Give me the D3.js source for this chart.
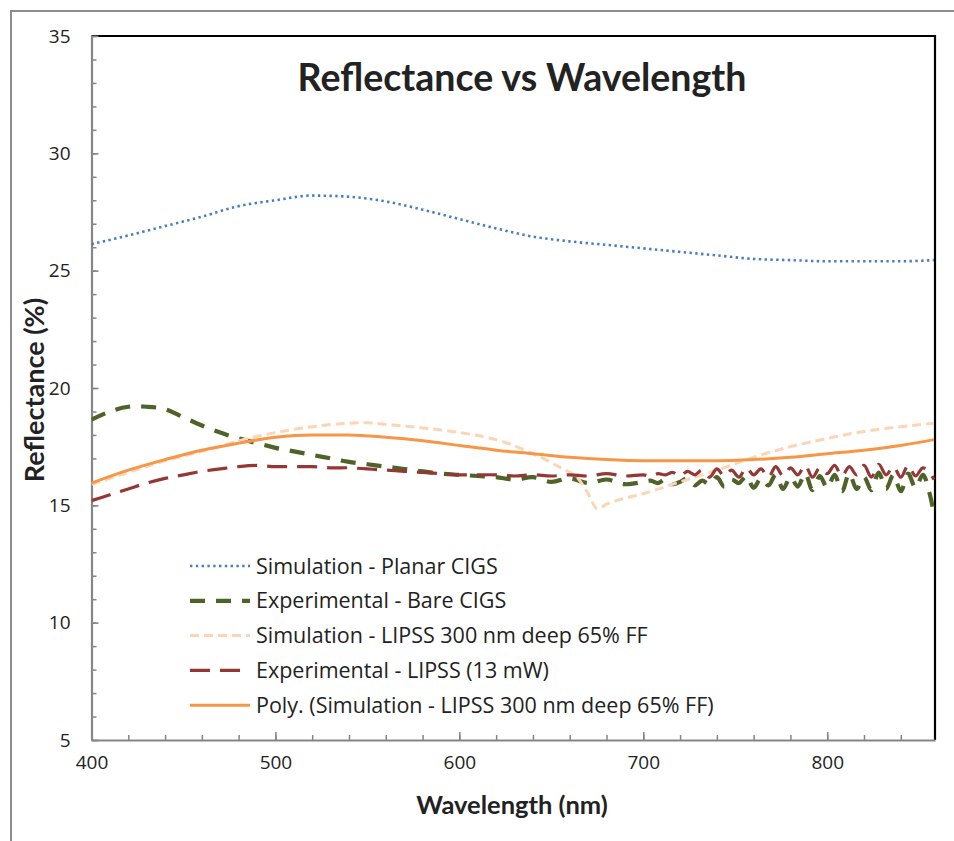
<!DOCTYPE html>
<html>
<head>
<meta charset="utf-8">
<script src="https://cdn.jsdelivr.net/npm/d3@7"></script>
<style>
  body { margin: 0; background: #fff; }
  text { fill: #222; }
</style>
</head>
<body>
<div id="chart"></div>
<script>
// Reflectance vs Wavelength

// Simulation - Planar CIGS
const planarWl = [400, 420, 440, 460, 480, 500, 520, 540, 560, 580, 600, 620, 640, 660, 680, 700, 720, 740, 760, 780, 800, 820, 840, 858];
const planarR = [26.13, 26.5, 26.9, 27.3, 27.75, 28.0, 28.2, 28.15, 27.95, 27.6, 27.2, 26.8, 26.45, 26.25, 26.1, 25.95, 25.8, 25.65, 25.5, 25.45, 25.4, 25.4, 25.4, 25.45];

// Simulation - LIPSS 300 nm deep 65% FF
const lipssSimWl = [400, 420, 440, 460, 480, 500, 520, 540, 550, 560, 580, 600, 620, 640, 655, 665, 670, 675, 680, 690, 700, 720, 740, 760, 780, 800, 820, 840, 858];
const lipssSimR = [15.9, 16.4, 16.9, 17.3, 17.75, 18.1, 18.35, 18.5, 18.52, 18.45, 18.3, 18.1, 17.8, 17.2, 16.6, 16.1, 15.5, 14.85, 15.05, 15.3, 15.5, 16.0, 16.5, 17.05, 17.5, 17.85, 18.15, 18.35, 18.5];

// Poly. trendline of the LIPSS simulation
const polyWl = [400, 420, 440, 460, 480, 500, 520, 540, 560, 580, 600, 620, 640, 660, 680, 700, 720, 740, 760, 780, 800, 820, 840, 858];
const polyR = [15.95, 16.5, 16.95, 17.35, 17.65, 17.9, 18.0, 18.0, 17.9, 17.75, 17.55, 17.35, 17.2, 17.05, 16.95, 16.9, 16.9, 16.9, 16.95, 17.05, 17.2, 17.35, 17.55, 17.8];

// Experimental - Bare CIGS (10 nm steps to 690, then 4 nm steps)
const bareWl = [400, 410, 420, 430, 440, 450, 460, 470, 480, 490, 500, 510, 520, 530, 540, 550, 560, 570, 580, 590, 600, 610, 620, 630, 640, 650, 660, 670, 680, 690,
  700, 704, 708, 712, 716, 720, 724, 728, 732, 736, 740, 744, 748, 752, 756, 760, 764, 768, 772, 776, 780, 784, 788, 792, 796, 800, 804, 808, 812, 816, 820, 824, 828, 832, 836, 840, 844, 848, 852, 856, 858];
const bareR = [18.65, 19.0, 19.2, 19.2, 19.1, 18.75, 18.4, 18.1, 17.85, 17.65, 17.45, 17.3, 17.15, 17.0, 16.85, 16.75, 16.65, 16.55, 16.45, 16.35, 16.3, 16.25, 16.2, 16.1, 16.2, 16.0, 16.15, 15.95, 16.1, 15.9,
  16.0, 16.05, 15.95, 16.1, 15.9, 16.0, 16.15, 15.85, 16.05, 15.9, 16.2, 15.8, 16.1, 15.95, 16.25, 15.75, 16.15, 15.85, 16.3, 15.7, 16.2, 15.8, 16.35, 15.65, 16.25, 15.75, 16.3, 15.6, 16.35, 15.7, 16.2, 15.65, 16.4, 15.7, 16.3, 15.6, 16.35, 15.75, 16.3, 15.4, 14.6];

// Experimental - LIPSS (13 mW)
const lipssExpWl = bareWl;
const lipssExpR = [15.2, 15.45, 15.7, 15.95, 16.15, 16.3, 16.45, 16.55, 16.65, 16.7, 16.65, 16.65, 16.65, 16.6, 16.6, 16.55, 16.5, 16.45, 16.4, 16.35, 16.3, 16.3, 16.3, 16.25, 16.3, 16.25, 16.3, 16.25, 16.35, 16.25,
  16.3, 16.25, 16.35, 16.3, 16.4, 16.25, 16.45, 16.3, 16.5, 16.2, 16.55, 16.25, 16.5, 16.2, 16.6, 16.3, 16.55, 16.2, 16.65, 16.25, 16.6, 16.3, 16.7, 16.2, 16.6, 16.35, 16.7, 16.25, 16.65, 16.3, 16.7, 16.2, 16.75, 16.3, 16.65, 16.2, 16.7, 16.25, 16.6, 16.35, 16.1];

const xTicks = [400, 500, 600, 700, 800];
const yTicks = [5, 10, 15, 20, 25, 30, 35];

const series = [
  { name: "Simulation - Planar CIGS", wl: planarWl, r: planarR, color: "#4a7ebb", width: 2.6, dash: "2.4,3.4", curve: d3.curveMonotoneX },
  { name: "Experimental - Bare CIGS", wl: bareWl, r: bareR, color: "#4f6228", width: 4.2, dash: "15,11", curve: d3.curveCatmullRom },
  { name: "Simulation - LIPSS 300 nm deep 65% FF", wl: lipssSimWl, r: lipssSimR, color: "#fcd5b5", width: 3, dash: "9,5", curve: d3.curveMonotoneX },
  { name: "Experimental - LIPSS (13 mW)", wl: lipssExpWl, r: lipssExpR, color: "#953735", width: 3.2, dash: "20,10", curve: d3.curveCatmullRom },
  { name: "Poly. (Simulation - LIPSS 300 nm deep 65% FF)", wl: polyWl, r: polyR, color: "#f79646", width: 3, dash: null, curve: d3.curveMonotoneX }
];

const W = 954, H = 841;
const plot = { left: 91.5, top: 36, right: 935, bottom: 740 };

const svg = d3.select("#chart").append("svg")
  .attr("width", W).attr("height", H);

// chart outline (cropped on right and bottom)
svg.append("rect")
  .attr("x", 11).attr("y", 11)
  .attr("width", W + 20).attr("height", H + 20)
  .attr("fill", "none").attr("stroke", "#8c8c8c").attr("stroke-width", 2);

const x = d3.scaleLinear().domain([400, 858.6]).range([plot.left, plot.right]);
const y = d3.scaleLinear().domain([5, 35]).range([plot.bottom, plot.top]);

svg.append("clipPath").attr("id", "clip")
  .append("rect")
  .attr("x", plot.left).attr("y", plot.top)
  .attr("width", plot.right - plot.left).attr("height", plot.bottom - plot.top);

// plot area border: top and right are black
svg.append("path")
  .attr("d", `M${plot.left},${plot.top}H${plot.right}V${plot.bottom}`)
  .attr("fill", "none").attr("stroke", "#000").attr("stroke-width", 2.2);

// minor ticks
svg.append("g")
  .attr("transform", `translate(${plot.left},0)`)
  .call(d3.axisLeft(y).tickValues(d3.range(5, 36, 1)).tickSize(-5).tickFormat(""))
  .call(g => g.select(".domain").remove())
  .call(g => g.selectAll("line").attr("stroke", "#868686").attr("stroke-width", 1.5));

svg.append("g")
  .attr("transform", `translate(0,${plot.bottom})`)
  .call(d3.axisBottom(x).tickValues(d3.range(400, 860, 20)).tickSize(-5).tickFormat(""))
  .call(g => g.select(".domain").remove())
  .call(g => g.selectAll("line").attr("stroke", "#868686").attr("stroke-width", 1.5));

// major ticks + labels
const yAxis = svg.append("g")
  .attr("transform", `translate(${plot.left},0)`)
  .call(d3.axisLeft(y).tickValues(yTicks).tickSize(-7).tickPadding(21).tickSizeOuter(0));

const xAxis = svg.append("g")
  .attr("transform", `translate(0,${plot.bottom})`)
  .call(d3.axisBottom(x).tickValues(xTicks).tickSize(-8).tickPadding(16).tickSizeOuter(0));

[yAxis, xAxis].forEach(g => {
  g.select(".domain").attr("stroke", "#868686").attr("stroke-width", 2.2);
  g.selectAll("line").attr("stroke", "#868686").attr("stroke-width", 1.5);
  g.selectAll("text")
    .attr("font-family", "'Open Sans', sans-serif")
    .attr("font-size", 19)
    .attr("fill", "#222");
});

// series lines
const lines = svg.append("g").attr("clip-path", "url(#clip)");
series.forEach(s => {
  const line = d3.line()
    .x((d, i) => x(s.wl[i]))
    .y(d => y(d))
    .curve(s.curve);
  lines.append("path")
    .datum(s.r)
    .attr("d", line)
    .attr("fill", "none")
    .attr("stroke", s.color)
    .attr("stroke-width", s.width)
    .attr("stroke-dasharray", s.dash)
    .attr("stroke-linejoin", "round");
});

// title and axis titles
svg.append("text")
  .attr("x", 522).attr("y", 91)
  .attr("text-anchor", "middle")
  .attr("font-family", "Lato, sans-serif")
  .attr("font-weight", "bold")
  .attr("font-size", 37.5)
  .text("Reflectance vs Wavelength");

svg.append("text")
  .attr("x", 512).attr("y", 814)
  .attr("text-anchor", "middle")
  .attr("font-family", "Lato, sans-serif")
  .attr("font-weight", "bold")
  .attr("font-size", 25.5)
  .text("Wavelength (nm)");

svg.append("text")
  .attr("transform", "translate(44,390) rotate(-90)")
  .attr("text-anchor", "middle")
  .attr("font-family", "Lato, sans-serif")
  .attr("font-weight", "bold")
  .attr("font-size", 27)
  .text("Reflectance (%)");

// legend, no frame
const legend = svg.append("g").attr("transform", "translate(190,566)");
series.forEach((s, i) => {
  const row = legend.append("g").attr("transform", `translate(0,${i * 34.8})`);
  row.append("line")
    .attr("x1", 0).attr("x2", 60)
    .attr("stroke", s.color)
    .attr("stroke-width", s.width)
    .attr("stroke-dasharray", s.dash);
  row.append("text")
    .attr("x", 66).attr("dy", "0.35em")
    .attr("font-family", "'Open Sans', sans-serif")
    .attr("font-size", 21.5)
    .text(s.name);
});
</script>
</body>
</html>
